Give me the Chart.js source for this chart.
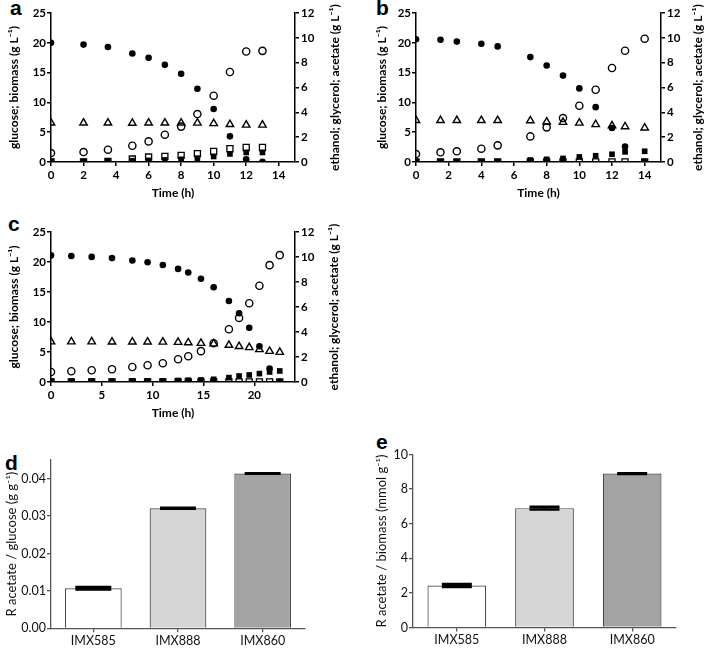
<!DOCTYPE html>
<html>
<head>
<meta charset="utf-8">
<script src="https://cdn.jsdelivr.net/npm/chart.js@4.4.1/dist/chart.umd.min.js"></script>
<style>
  html, body { margin: 0; padding: 0; background: #fff; }
  body { width: 709px; height: 649px; position: relative; overflow: hidden; }
  .panel { position: absolute; }
  .tag { position: absolute; font: bold 21px "Liberation Sans", Arial, sans-serif; line-height: 21px; color: #000; }
</style>
</head>
<body>
<div class="tag" style="left:10px;top:-3px">a</div>
<div class="tag" style="left:376px;top:-3px">b</div>
<div class="tag" style="left:8px;top:213px">c</div>
<div class="tag" style="left:5px;top:452px">d</div>
<div class="tag" style="left:376px;top:431px">e</div>

<div class="panel" style="left:0;top:0;width:354px;height:205px"><canvas id="chartA"></canvas></div>
<div class="panel" style="left:354px;top:0;width:355px;height:205px"><canvas id="chartB"></canvas></div>
<div class="panel" style="left:0;top:205px;width:354px;height:220px"><canvas id="chartC"></canvas></div>
<div class="panel" style="left:0;top:430px;width:354px;height:219px"><canvas id="chartD"></canvas></div>
<div class="panel" style="left:354px;top:430px;width:355px;height:219px"><canvas id="chartE"></canvas></div>

<script>
// --- panel a (IMX585) ---
const timeA     = [0, 2, 3.5, 5, 6, 7, 8, 9, 10, 11, 12, 13];
const glucoseA  = [20.0, 19.7, 19.3, 18.2, 17.5, 16.3, 14.8, 12.3, 8.9, 4.3, 0.45, 0.05];
const biomassA  = [0.1, 0.1, 0.15, 0.22, 0.27, 0.35, 0.45, 0.65, 0.92, 1.35, 1.6, 1.6];
const ethanolA  = [0.72, 0.8, 0.99, 1.31, 1.66, 2.2, 2.85, 3.86, 5.34, 7.25, 8.9, 8.95];
const glycerolA = [0, 0, 0.05, 0.24, 0.4, 0.45, 0.53, 0.67, 0.85, 1.07, 1.17, 1.17];
const acetateA  = [3.15, 3.15, 3.15, 3.13, 3.15, 3.15, 3.15, 3.14, 3.1, 3.03, 2.98, 2.98];

// --- panel b (IMX888) ---
const timeB     = [0, 1.5, 2.5, 4, 5, 7, 8, 9, 10, 11, 12, 12.8, 14];
const glucoseB  = [20.6, 20.5, 20.2, 19.85, 19.4, 17.6, 16.2, 14.5, 12.35, 9.2, 5.7, 2.6, 0.05];
const biomassB  = [0.05, 0.05, 0.05, 0.05, 0.05, 0.33, 0.45, 0.6, 0.85, 1.05, 1.3, 1.7, 1.8];
const ethanolB  = [0.64, 0.78, 0.86, 1.07, 1.34, 2.06, 2.79, 3.54, 4.53, 5.82, 7.57, 8.96, 9.93];
const glycerolB = [0, 0, 0, 0, 0, 0, 0, 0, 0, 0, 0, 0, 0];
const acetateB  = [3.35, 3.35, 3.35, 3.35, 3.35, 3.33, 3.22, 3.2, 3.14, 3.02, 2.92, 2.85, 2.75];

// --- panel c (IMX860) ---
const timeC     = [0, 2, 4, 6, 8, 9.5, 11, 12.5, 13.5, 14.75, 16, 17.5, 18.5, 19.5, 20.5, 21.5, 22.5];
const glucoseC  = [21.1, 21.0, 20.85, 20.65, 20.25, 19.95, 19.5, 18.85, 18.25, 17.2, 15.8, 13.5, 11.45, 9.05, 5.95, 2.25, 0.05];
const biomassC  = [0.15, 0.15, 0.15, 0.15, 0.2, 0.2, 0.2, 0.25, 0.3, 0.35, 0.45, 0.73, 1.0, 1.17, 1.4, 1.67, 1.84];
const ethanolC  = [0.8, 0.86, 0.94, 1.02, 1.2, 1.34, 1.5, 1.82, 2.06, 2.47, 3.1, 4.22, 5.13, 6.3, 7.7, 9.35, 10.15];
const glycerolC = [0, 0, 0, 0, 0, 0, 0, 0, 0, 0, 0, 0, 0, 0, 0, 0, 0];
const acetateC  = [3.22, 3.22, 3.22, 3.21, 3.21, 3.21, 3.2, 3.18, 3.15, 3.1, 3.06, 2.95, 2.85, 2.76, 2.6, 2.46, 2.38];

// --- tick labels ---
const ticksTimeAB = [0, 2, 4, 6, 8, 10, 12, 14];
const ticksTimeC  = [0, 5, 10, 15, 20];
const ticksLeft   = [0, 5, 10, 15, 20, 25];
const ticksRight  = [0, 2, 4, 6, 8, 10, 12];
const ticksYieldD = [0, 0.01, 0.02, 0.03, 0.04];
const ticksYieldE = [0, 2, 4, 6, 8, 10];

// --- panels d and e ---
const strains         = ['IMX585', 'IMX888', 'IMX860'];
const barColors       = ['#ffffff', '#d6d6d6', '#a3a3a3'];
const ratioGlucose    = [0.0107, 0.0321, 0.0414];
const ratioGlucoseErr = [0.0003, 0.0001, 0.00005];
const ratioBiomass    = [2.43, 6.9, 8.9];
const ratioBiomassErr = [0.08, 0.08, 0.02];

const BOLD = 'bold';
const FONT = 'Lato, "Open Sans", sans-serif';

// right-hand axis title, written bottom-to-top like the left one
const sideTitle = {
    id: 'sideTitle',
    afterDraw(chart, args, opts) {
        if (!opts.text) return;
        const { ctx, chartArea } = chart;
        ctx.save();
        ctx.translate(opts.x, (chartArea.top + chartArea.bottom) / 2);
        ctx.rotate(-Math.PI / 2);
        ctx.font = opts.font;
        ctx.fillStyle = '#000';
        ctx.textAlign = 'center';
        ctx.textBaseline = 'middle';
        ctx.fillText(opts.text, 0, 0);
        ctx.restore();
    }
};

// error bars on top of the bars
const errorBars = {
    id: 'errorBars',
    afterDatasetsDraw(chart, args, opts) {
        if (!opts.errors) return;
        const meta = chart.getDatasetMeta(0);
        const y = chart.scales.y;
        const ctx = chart.ctx;
        const values = chart.data.datasets[0].data;
        ctx.save();
        ctx.strokeStyle = '#000';
        ctx.lineWidth = opts.lineWidth;
        meta.data.forEach((bar, i) => {
            const hi = y.getPixelForValue(values[i] + opts.errors[i]);
            const lo = y.getPixelForValue(values[i] - opts.errors[i]);
            const hw = opts.capWidth / 2;
            ctx.beginPath();
            ctx.moveTo(bar.x, hi); ctx.lineTo(bar.x, lo);
            ctx.moveTo(bar.x - hw, hi); ctx.lineTo(bar.x + hw, hi);
            ctx.moveTo(bar.x - hw, lo); ctx.lineTo(bar.x + hw, lo);
            ctx.stroke();
        });
        ctx.restore();
    }
};

function pts(xs, ys) {
    return xs.map((x, i) => ({ x: x, y: ys[i] }));
}

function setTicks(values) {
    return scale => { scale.ticks = values.map(v => ({ value: v })); };
}

function kineticsChart(id, time, glucose, biomass, ethanol, glycerol, acetate, xMax, xTicks, box) {
    const axisLine = { display: true, color: '#000', width: 1.5 };
    const tickMarks = { display: true, drawOnChartArea: false, drawTicks: true, tickLength: 4, color: '#000', lineWidth: 1.5 };
    const tickFont = { family: FONT, size: 11.5, weight: BOLD };
    return new Chart(document.getElementById(id), {
        type: 'scatter',
        data: {
            datasets: [
                { label: 'glucose', data: pts(time, glucose), yAxisID: 'y',
                  pointStyle: 'circle', pointRadius: 3.3, backgroundColor: '#000', borderColor: '#000', borderWidth: 0 },
                { label: 'ethanol', data: pts(time, ethanol), yAxisID: 'y2',
                  pointStyle: 'circle', pointRadius: 3.6, backgroundColor: 'rgba(0,0,0,0)', borderColor: '#000', borderWidth: 1.4 },
                { label: 'acetate', data: pts(time, acetate), yAxisID: 'y2',
                  pointStyle: 'triangle', pointRadius: 4.3, backgroundColor: 'rgba(0,0,0,0)', borderColor: '#000', borderWidth: 1.4 },
                { label: 'biomass', data: pts(time, biomass), yAxisID: 'y',
                  pointStyle: 'rect', pointRadius: 4, backgroundColor: '#000', borderColor: '#000', borderWidth: 0 },
                { label: 'glycerol', data: pts(time, glycerol), yAxisID: 'y2',
                  pointStyle: 'rect', pointRadius: 4.3, backgroundColor: 'rgba(0,0,0,0)', borderColor: '#000', borderWidth: 1.3 }
            ]
        },
        options: {
            responsive: true,
            maintainAspectRatio: false,
            animation: false,
            devicePixelRatio: 1,
            layout: { padding: { top: box.top, bottom: 0, left: 0, right: 0 } },
            plugins: {
                legend: { display: false },
                tooltip: { enabled: false },
                sideTitle: { text: 'ethanol; glycerol; acetate (g L\u207B\u00B9)', x: box.rightTitleX, font: 'bold 12px ' + FONT }
            },
            scales: {
                x: {
                    type: 'linear', min: 0, max: xMax,
                    afterBuildTicks: setTicks(xTicks),
                    afterFit: s => { s.height = box.bottomH; },
                    border: axisLine, grid: tickMarks,
                    ticks: { color: '#000', font: tickFont, padding: 2, autoSkip: false, maxRotation: 0 },
                    title: { display: true, text: 'Time (h)', color: '#000', font: { family: FONT, size: 12, weight: BOLD }, padding: { top: 0, bottom: box.xTitlePad } }
                },
                y: {
                    type: 'linear', position: 'left', min: 0, max: 25,
                    afterBuildTicks: setTicks(ticksLeft),
                    afterFit: s => { s.width = box.leftW; },
                    border: axisLine, grid: tickMarks,
                    ticks: { color: '#000', font: tickFont, padding: 1 },
                    title: { display: true, text: 'glucose; biomass (g L\u207B\u00B9)', color: '#000', font: { family: FONT, size: 12, weight: BOLD }, padding: { top: box.leftTitlePad, bottom: 0 } }
                },
                y2: {
                    type: 'linear', position: 'right', min: 0, max: 12,
                    afterBuildTicks: setTicks(ticksRight),
                    afterFit: s => { s.width = box.rightW; },
                    border: axisLine, grid: tickMarks,
                    ticks: { color: '#000', font: tickFont, padding: 2 }
                }
            }
        },
        plugins: [sideTitle]
    });
}

function ratioChart(id, values, errors, yMax, yTicks, fmt, yTitle, box) {
    const axisLine = { display: true, color: '#555', width: 1.3 };
    const tickFont = { family: FONT, size: 12.5 };
    return new Chart(document.getElementById(id), {
        type: 'bar',
        data: {
            labels: strains,
            datasets: [{
                data: values,
                backgroundColor: barColors,
                borderColor: '#4a4a4a',
                borderWidth: 1.2,
                barPercentage: 0.67,
                categoryPercentage: 1
            }]
        },
        options: {
            responsive: true,
            maintainAspectRatio: false,
            animation: false,
            devicePixelRatio: 1,
            layout: { padding: { top: box.top, bottom: 0, left: 0, right: box.right } },
            plugins: {
                legend: { display: false },
                tooltip: { enabled: false },
                errorBars: { errors: errors, capWidth: box.cap, lineWidth: 2.6 }
            },
            scales: {
                x: {
                    afterFit: s => { s.height = box.bottomH; },
                    border: axisLine,
                    grid: { display: true, drawOnChartArea: false, offset: false, tickLength: 4, color: '#555', lineWidth: 1.3 },
                    ticks: { color: '#111', font: tickFont, padding: 1 }
                },
                y: {
                    min: 0, max: yMax,
                    afterBuildTicks: setTicks(yTicks),
                    afterFit: s => { s.width = box.leftW; },
                    border: axisLine,
                    grid: { display: true, drawOnChartArea: false, tickLength: 4, color: '#555', lineWidth: 1.3 },
                    ticks: { color: '#111', font: tickFont, padding: 1, callback: fmt },
                    title: { display: true, text: yTitle, color: '#111', font: { family: FONT, size: 13 }, padding: { top: box.titlePad, bottom: 0 } }
                }
            }
        },
        plugins: [errorBars]
    });
}

kineticsChart('chartA', timeA, glucoseA, biomassA, ethanolA, glycerolA, acetateA, 15, ticksTimeAB,
    { top: 13, bottomH: 43, leftW: 51, rightW: 59, leftTitlePad: 7, rightTitleX: 335, xTitlePad: 4.8 });
kineticsChart('chartB', timeB, glucoseB, biomassB, ethanolB, glycerolB, acetateB, 15, ticksTimeAB,
    { top: 13, bottomH: 43, leftW: 62, rightW: 48, leftTitlePad: 21, rightTitleX: 344, xTitlePad: 4.8 });
kineticsChart('chartC', timeC, glucoseC, biomassC, ethanolC, glycerolC, acetateC, 24, ticksTimeC,
    { top: 27, bottomH: 43, leftW: 51, rightW: 59, leftTitlePad: 7, rightTitleX: 334, xTitlePad: 5.1 });

ratioChart('chartD', ratioGlucose, ratioGlucoseErr, 0.045, ticksYieldD, v => v.toFixed(2),
    'R acetate / glucose (g g\u207B\u00B9)',
    { top: 30, bottomH: 20.7, leftW: 51, right: 49, titlePad: 4, cap: 36 });
ratioChart('chartE', ratioBiomass, ratioBiomassErr, 10, ticksYieldE, v => v,
    'R acetate / biomass (mmol g\u207B\u00B9)',
    { top: 24.5, bottomH: 21.5, leftW: 59, right: 33, titlePad: 20.5, cap: 30 });
</script>
</body>
</html>
